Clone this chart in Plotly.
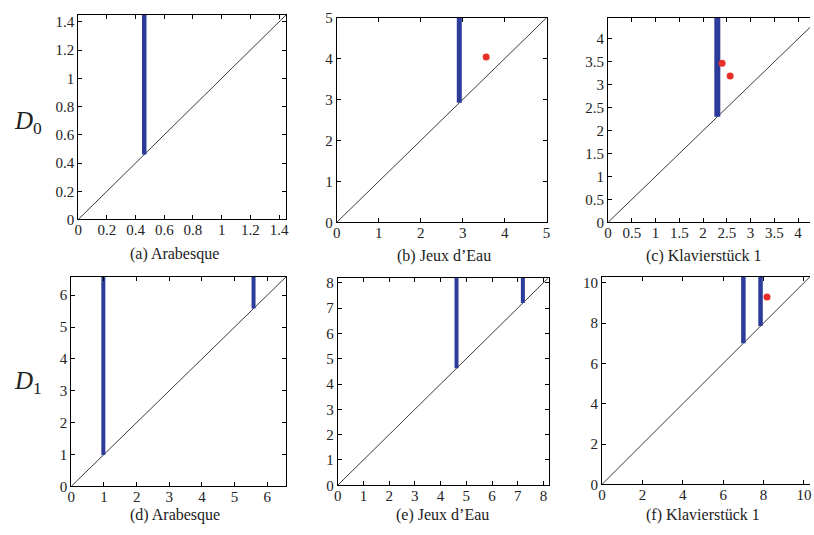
import plotly.graph_objects as go

W, H = 814, 535

# ---- data ----
titles = ["(a) Arabesque", "(b) Jeux d\u2019Eau", "(c) Klavierst\u00fcck 1",
          "(d) Arabesque", "(e) Jeux d\u2019Eau", "(f) Klavierst\u00fcck 1"]

arabesque_d0_essential = [0.46]
arabesque_d0_px, arabesque_d0_py = [], []
jeux_d0_essential = [2.92]
jeux_d0_px, jeux_d0_py = [3.56], [4.04]
klav_d0_essential = [2.30]
klav_d0_px, klav_d0_py = [2.40, 2.57], [3.47, 3.19]

arabesque_d1_essential = [0.98, 5.58]
arabesque_d1_px, arabesque_d1_py = [], []
jeux_d1_essential = [4.62, 7.20]
jeux_d1_px, jeux_d1_py = [], []
klav_d1_essential = [7.00, 7.85]
klav_d1_px, klav_d1_py = [8.17], [9.29]

ticks_a = [0, 0.2, 0.4, 0.6, 0.8, 1, 1.2, 1.4]
ticks_b = [0, 1, 2, 3, 4, 5]
ticks_c = [0, 0.5, 1, 1.5, 2, 2.5, 3, 3.5, 4]
ticks_d = [0, 1, 2, 3, 4, 5, 6]
ticks_e = [0, 1, 2, 3, 4, 5, 6, 7, 8]
ticks_f = [0, 2, 4, 6, 8, 10]

panels = [
    dict(ess=arabesque_d0_essential, px=arabesque_d0_px, py=arabesque_d0_py,
         xr=[0, 1.45], yr=[0, 1.45], tx=ticks_a, ty=ticks_a,
         box=(75, 285, 7, 218), tc=172, ty_t=254, lw=4.5, cut=False),
    dict(ess=jeux_d0_essential, px=jeux_d0_px, py=jeux_d0_py,
         xr=[0, 5], yr=[0, 5], tx=ticks_b, ty=ticks_b,
         box=(336, 548, 10, 221), tc=444, ty_t=256, lw=5, cut=False),
    dict(ess=klav_d0_essential, px=klav_d0_px, py=klav_d0_py,
         xr=[0, 4.25], yr=[0, 4.46], tx=ticks_c, ty=ticks_c,
         box=(610, 814, 10, 221), tc=707, ty_t=256, lw=6, cut=True),
    dict(ess=arabesque_d1_essential, px=arabesque_d1_px, py=arabesque_d1_py,
         xr=[0, 6.58], yr=[0, 6.58], tx=ticks_d, ty=ticks_d,
         box=(68, 285, 277, 493), tc=173, ty_t=523, lw=4, cut=False),
    dict(ess=jeux_d1_essential, px=jeux_d1_px, py=jeux_d1_py,
         xr=[0, 8.2], yr=[0, 8.2], tx=ticks_e, ty=ticks_e,
         box=(337, 550, 278, 492), tc=443, ty_t=523, lw=4, cut=False),
    dict(ess=klav_d1_essential, px=klav_d1_px, py=klav_d1_py,
         xr=[0, 10.3], yr=[0, 10.3], tx=ticks_f, ty=ticks_f,
         box=(604, 814, 277, 491), tc=706, ty_t=523, lw=4.5, cut=True),
]

BLUE = "#2d3c9a"
RED = "#e8302a"
FONT = "'Liberation Serif', 'Times New Roman', 'DejaVu Serif', serif"

fig = go.Figure()
layout = dict(width=W, height=H, margin=dict(l=0, r=0, t=0, b=0),
              paper_bgcolor="white", plot_bgcolor="white", showlegend=False,
              annotations=[])

for i, p in enumerate(panels, start=1):
    xa = "x" if i == 1 else f"x{i}"
    ya = "y" if i == 1 else f"y{i}"
    x0, x1, y0, y1 = p["box"]
    top = max(p["xr"][1], p["yr"][1])
    # diagonal
    fig.add_trace(go.Scatter(x=[0, top], y=[0, top], mode="lines",
                             line=dict(color="#3a3a3a", width=1),
                             xaxis=xa, yaxis=ya, hoverinfo="skip"))
    # essential classes (vertical bars)
    for b in p["ess"]:
        fig.add_trace(go.Scatter(x=[b, b], y=[b, p["yr"][1]], mode="lines",
                                 line=dict(color=BLUE, width=p["lw"]),
                                 xaxis=xa, yaxis=ya))
    if p["px"]:
        fig.add_trace(go.Scatter(x=p["px"], y=p["py"], mode="markers",
                                 marker=dict(color=RED, size=7),
                                 xaxis=xa, yaxis=ya))
    common = dict(showgrid=False, zeroline=False, showline=True,
                  linecolor="black", linewidth=1, ticks="inside", ticklen=4,
                  tickcolor="black", tickfont=dict(family=FONT, size=15, color="#222"),
                  fixedrange=True)
    layout["xaxis" if i == 1 else f"xaxis{i}"] = dict(
        common, domain=[x0 / W, x1 / W], range=p["xr"], tickvals=p["tx"],
        ticktext=[f"{v:g}" for v in p["tx"]], anchor=ya, mirror="ticks",
        ticklabelstandoff=-3)
    layout["yaxis" if i == 1 else f"yaxis{i}"] = dict(
        common, domain=[1 - y1 / H, 1 - y0 / H], range=p["yr"], tickvals=p["ty"],
        ticktext=[f"{v:g}" for v in p["ty"]], anchor=xa,
        mirror=False if p["cut"] else "ticks")
    layout["annotations"].append(dict(
        text=titles[i - 1], x=p["tc"] / W, y=1 - p["ty_t"] / H, xref="paper",
        yref="paper", showarrow=False, xanchor="center", yanchor="middle",
        font=dict(family=FONT, size=16, color="#222")))

layout["annotations"].append(dict(text="<i>D</i><sub>0</sub>", x=24 / W, y=1 - 118 / H,
                                  xref="paper", yref="paper", showarrow=False,
                                  xanchor="center", yanchor="middle",
                                  font=dict(family=FONT, size=25, color="#222")))
layout["annotations"].append(dict(text="<i>D</i><sub>1</sub>", x=24 / W, y=1 - 386 / H,
                                  xref="paper", yref="paper", showarrow=False,
                                  xanchor="center", yanchor="middle",
                                  font=dict(family=FONT, size=25, color="#222")))

fig.update_layout(**layout)
fig.write_html("out.html", config={"displayModeBar": False},
               post_script="document.body.style.margin='0px';"
                           "document.body.style.overflow='hidden';")
